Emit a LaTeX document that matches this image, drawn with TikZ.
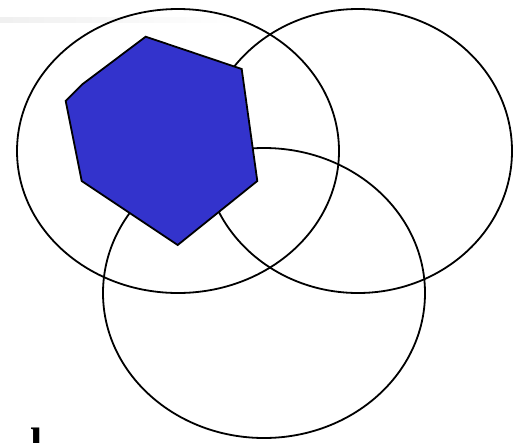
\documentclass[tikz,border=0pt]{standalone}
\usepackage{fontspec}
\setmainfont{Liberation Serif}
\begin{document}
\begin{tikzpicture}[x=1pt,y=-1pt,
  ring/.style={draw=black,line width=1.8pt},
  hexa/.style={draw=black,line width=1.8pt,fill=hexblue,line join=miter}]
\definecolor{hexblue}{HTML}{3333CC}
\useasboundingbox (0,0) rectangle (518,442);
\clip (0,0) rectangle (518,442);
\shade[left color=black!6,right color=white] (0,17) rectangle (240,22);
\node[inner sep=0pt,anchor=north west,font=\bfseries\fontsize{44}{44}\selectfont] (txt) at (-24,428) {d\hspace{30pt}l};
\draw[ring] (178,151) ellipse [x radius=161, y radius=142];
\draw[ring] (358,151) ellipse [x radius=154, y radius=142];
\draw[ring] (264,293) ellipse [x radius=161, y radius=145];
\draw[hexa] (145.7,36.7) -- (241.7,69) -- (257.3,181) -- (177.7,245) -- (81.7,181) -- (65.7,101) -- (82.3,84.3) -- cycle;
\end{tikzpicture}
\end{document}
